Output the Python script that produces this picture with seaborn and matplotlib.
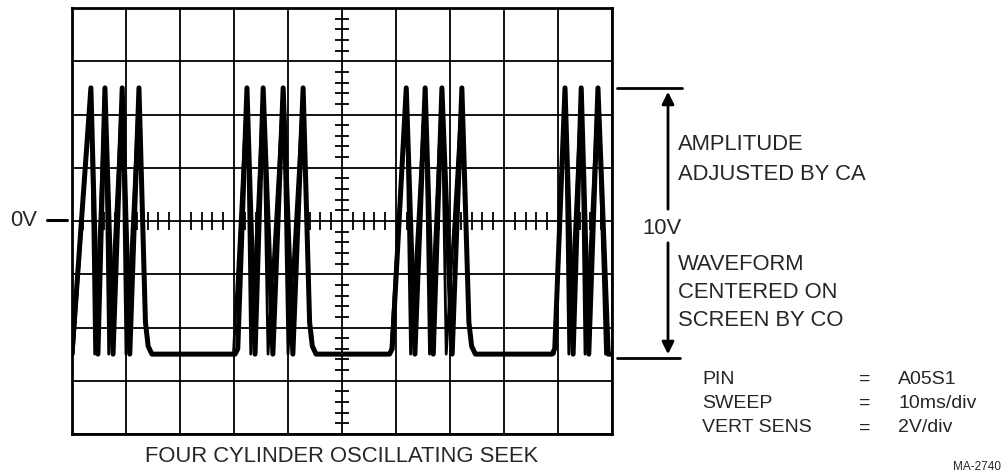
import numpy as np
import pandas as pd
import seaborn as sns
from matplotlib import pyplot as plt

# trace vertices (time in divisions, level in divisions)
t_div = [0.00, 0.35, 0.48, 0.61, 0.76, 0.93, 1.07, 1.24, 1.36, 1.41, 1.48,
         3.02, 3.07, 3.24, 3.39, 3.54, 3.72, 3.91, 4.09, 4.28, 4.40, 4.45, 4.52,
         5.88, 5.93, 6.19, 6.35, 6.54, 6.69, 6.85, 7.04, 7.22, 7.35, 7.40, 7.47,
         8.89, 8.94, 9.13, 9.28, 9.43, 9.57, 9.74, 9.93, 10.00]
v_div = [-2.50, 2.50, -2.50, 2.50, -2.50, 2.50, -2.50, 2.50, -1.90, -2.35, -2.50,
         -2.50, -2.40, 2.50, -2.50, 2.50, -2.50, 2.50, -2.50, 2.50, -1.90, -2.35, -2.50,
         -2.50, -2.40, 2.50, -2.50, 2.50, -2.50, 2.50, -2.50, 2.50, -1.90, -2.35, -2.50,
         -2.50, -2.40, 2.50, -2.50, 2.50, -2.50, 2.50, -2.50, -2.50]

# second (overlapping) sweep: steeper falls after each peak
t_ghost = [0.02, 0.35, 0.42, 0.61, 0.68, 0.93, 1.00, 1.24, 1.36,
           2.99, 3.24, 3.31, 3.54, 3.63, 3.91, 4.00, 4.28, 4.40,
           5.90, 6.19, 6.27, 6.54, 6.62, 6.85, 6.93, 7.22, 7.35,
           8.93, 9.13, 9.20, 9.43, 9.50, 9.74, 9.88]
v_ghost = [-2.50, 2.50, -2.50, 2.50, -2.50, 2.50, -2.50, 2.50, -1.90,
           -2.50, 2.50, -2.50, 2.50, -2.50, 2.50, -2.50, 2.50, -1.90,
           -2.50, 2.50, -2.50, 2.50, -2.50, 2.50, -2.50, 2.50, -1.90,
           -2.50, 2.50, -2.50, 2.50, -2.50, 2.50, -2.50]
ghost_burst = [0] * 9 + [1] * 9 + [2] * 9 + [3] * 7

title = 'FOUR CYLINDER OSCILLATING SEEK'
setting_names = ['PIN', 'SWEEP', 'VERT SENS']
setting_values = ['A05S1', '10ms/div', '2V/div']

trace = pd.DataFrame({'t': t_div, 'v': v_div})
ghost = pd.DataFrame({'t': t_ghost, 'v': v_ghost, 'burst': ghost_burst})

sns.set_theme(style='white')
plt.rcParams['font.family'] = ['Liberation Sans', 'DejaVu Sans']

W, H = 1005, 472
fig = plt.figure(figsize=(W / 100, H / 100), dpi=100)
ax = fig.add_axes([72 / W, 38 / H, 540 / W, 426 / H])

ax.set_xlim(0, 10)
ax.set_ylim(-4, 4)
ax.set_xticks(range(0, 11))
ax.set_yticks(range(-4, 5))
ax.tick_params(length=0, labelbottom=False, labelleft=False)
ax.grid(True, color='black', lw=1.3)
for s in ax.spines.values():
    s.set_color('black')
    s.set_linewidth(2)

# graticule minor ticks on the centre lines
minor = np.arange(0, 10.01, 0.2)
minor = minor[np.abs(minor - np.round(minor)) > 0.05]
ax.vlines(minor, -0.16, 0.16, color='black', lw=1.3)
minor_y = np.arange(-4, 4.01, 0.2)
minor_y = minor_y[np.abs(minor_y - np.round(minor_y)) > 0.05]
ax.hlines(minor_y, 4.87, 5.13, color='black', lw=1.3)

for b, grp in ghost.groupby('burst'):
    sns.lineplot(data=grp, x='t', y='v', sort=False, estimator=None,
                 color='black', lw=2.0, ax=ax)
sns.lineplot(data=trace, x='t', y='v', sort=False, estimator=None,
             color='black', lw=3.6, ax=ax)
ax.set_xlabel('')
ax.set_ylabel('')


def fx(px):
    return px / W


def fy(py):
    return 1 - py / H


fs = 15.8
fig.text(fx(10), fy(221), '0V', fontsize=fs, va='center', ha='left')
fig.add_artist(plt.Line2D([fx(47), fx(67)], [fy(220), fy(220)], color='black', lw=2.2))
fig.text(fx(342), fy(456), title, fontsize=fs, va='center', ha='center')

# amplitude bracket
fig.add_artist(plt.Line2D([fx(617), fx(682)], [fy(88), fy(88)], color='black', lw=2))
fig.add_artist(plt.Line2D([fx(617), fx(680)], [fy(358), fy(358)], color='black', lw=2))
ax.annotate('', xy=(fx(668), fy(89)), xycoords='figure fraction',
            xytext=(fx(668), fy(212)), textcoords='figure fraction',
            arrowprops=dict(arrowstyle='-|>', color='black', lw=2, mutation_scale=18))
ax.annotate('', xy=(fx(668), fy(357)), xycoords='figure fraction',
            xytext=(fx(668), fy(240)), textcoords='figure fraction',
            arrowprops=dict(arrowstyle='-|>', color='black', lw=2, mutation_scale=18))
fig.text(fx(642), fy(228), '10V', fontsize=fs, va='center', ha='left')

for label, py in [('AMPLITUDE', 145), ('ADJUSTED BY CA', 174),
                  ('WAVEFORM', 264), ('CENTERED ON', 293), ('SCREEN BY CO', 321)]:
    fig.text(fx(678), fy(py), label, fontsize=fs, va='center', ha='left')

for i, (name, val) in enumerate(zip(setting_names, setting_values)):
    py = 379 + i * 24.5
    fig.text(fx(702), fy(py), name, fontsize=14, va='center', ha='left')
    fig.text(fx(865), fy(py), '=', fontsize=14, va='center', ha='center')
    fig.text(fx(898), fy(py), val, fontsize=14, va='center', ha='left')

fig.text(fx(1001), fy(467), 'MA-2740', fontsize=8.5, va='center', ha='right')

plt.savefig('out.png', dpi=100)
